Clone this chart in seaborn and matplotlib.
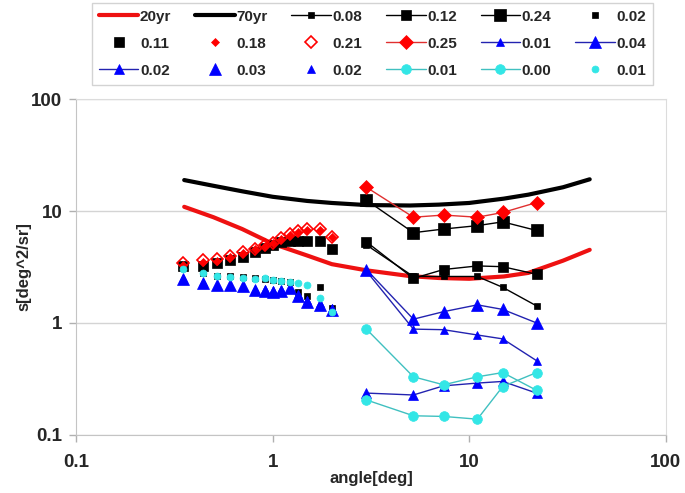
import numpy as np
import matplotlib
matplotlib.use('Agg')
import matplotlib.pyplot as plt
import seaborn as sns

sns.set_style('white')
plt.rcParams['font.family'] = ['Liberation Sans', 'DejaVu Sans']
plt.rcParams['font.weight'] = 'bold'

# model curves
x_curve = [0.355, 0.5, 0.7, 1.0, 1.5, 2.0, 3.0, 5.0, 7.0, 10, 15, 20, 30, 41]
yr20 = [10.9, 8.8, 6.9, 5.1, 4.0, 3.35, 2.95, 2.62, 2.52, 2.48, 2.6, 2.8, 3.6, 4.5]
yr70 = [18.9, 16.8, 15.0, 13.4, 12.3, 11.8, 11.3, 11.2, 11.4, 11.8, 12.9, 14.0, 16.3, 19.2]

# small-angle points (no lines)
x_left = [0.35, 0.44, 0.52, 0.61, 0.71, 0.81, 0.91, 1.0, 1.1, 1.22, 1.35, 1.5, 1.75, 2.0]
blk_002 = [3.1, 2.8, 2.65, 2.6, 2.55, 2.5, 2.45, 2.4, 2.35, 2.3, 1.9, 1.75, 2.1, 1.35]
blk_011 = [3.2, 3.2, 3.45, 3.65, 3.9, 4.3, 4.7, 5.0, 5.3, 5.4, 5.45, 5.45, 5.4, 4.55]
red_018 = [3.3, 3.5, 3.6, 3.9, 4.2, 4.55, 4.9, 5.15, 5.6, 6.1, 6.5, 6.8, 6.8, 5.9]
red_021 = [3.4, 3.65, 3.75, 4.0, 4.3, 4.6, 5.0, 5.2, 5.7, 6.2, 6.6, 6.9, 6.9, 5.8]
blu_003 = [2.46, 2.29, 2.18, 2.18, 2.14, 1.97, 1.94, 1.9, 1.94, 2.04, 1.74, 1.55, 1.45, 1.31]
blu_002b = [2.5, 2.3, 2.2, 2.2, 2.15, 2.0, 2.0, 1.95, 2.0, 2.05, 1.8, 1.6, 1.5, 1.35]
cya_001b = [3.05, 2.78, 2.6, 2.56, 2.5, 2.46, 2.5, 2.42, 2.39, 2.34, 2.29, 2.18, 1.66, 1.26]

# large-angle points (with lines)
x_right = [3.0, 5.2, 7.4, 11.0, 14.8, 22.0]
blk_008 = [4.97, 2.6, 2.6, 2.6, 2.08, 1.42]
blk_012 = [5.3, 2.5, 3.0, 3.23, 3.18, 2.72]
blk_024 = [12.5, 6.4, 6.9, 7.4, 8.0, 6.7]
red_025 = [16.3, 8.8, 9.2, 8.8, 9.7, 11.9]
blu_001 = [2.9, 0.88, 0.87, 0.78, 0.72, 0.46]
blu_004 = [3.0, 1.08, 1.26, 1.45, 1.32, 1.0]
blu_002 = [0.236, 0.227, 0.274, 0.29, 0.30, 0.236]
cya_001 = [0.88, 0.33, 0.28, 0.33, 0.36, 0.25]
cya_000 = [0.205, 0.148, 0.146, 0.138, 0.27, 0.36]

RED = '#ff0000'
BLUE = '#0000ff'
BLINE = '#2323b0'
CYAN = '#33e6e6'
CLINE = '#40c0c0'

fig = plt.figure(figsize=(6.85, 4.93), dpi=100)
ax = fig.add_axes([0.111, 0.118, 0.861, 0.681])
ax.set_xscale('log')
ax.set_yscale('log')


def draw(x, y, label, color, marker=None, ms=0, lw=0.0, lc=None, mfc=None, mew=0.5):
    sns.lineplot(x=x, y=y, ax=ax, label=label, color=lc or color,
                 linewidth=lw, linestyle='-' if lw > 0 else 'none',
                 marker=marker, markersize=ms,
                 markerfacecolor=mfc if mfc is not None else color,
                 markeredgecolor=color, markeredgewidth=mew)


draw(x_curve, yr20, '20yr', '#ee1111', lw=3.0)
draw(x_curve, yr70, '70yr', 'black', lw=3.0)
draw(x_right, blk_008, '0.08', 'black', 's', 4.5, 1.0)
draw(x_right, blk_012, '0.12', 'black', 's', 6.5, 1.0)
draw(x_right, blk_024, '0.24', 'black', 's', 8.5, 1.0)
draw(x_left, blk_002, '0.02', 'black', 's', 4.5)
draw(x_left, blk_011, '0.11', 'black', 's', 7.5)
draw(x_left, red_018, '0.18', RED, 'D', 4.5)
draw(x_left, red_021, '0.21', RED, 'D', 6.5, mfc='none', mew=1.2)
draw(x_right, red_025, '0.25', RED, 'D', 7.5, 1.0, lc='#e03030')
draw(x_right, blu_001, '0.01', BLUE, '^', 5.5, 1.0, lc=BLINE)
draw(x_right, blu_004, '0.04', BLUE, '^', 9, 1.0, lc=BLINE)
draw(x_right, blu_002, '0.02', BLUE, '^', 7, 1.0, lc=BLINE)
draw(x_left, blu_003, '0.03', BLUE, '^', 8)
draw(x_left, blu_002b, '0.02', BLUE, '^', 5.5)
draw(x_right, cya_001, '0.01', CYAN, 'o', 7, 1.0, lc=CLINE)
draw(x_right, cya_000, '0.00', CYAN, 'o', 7, 1.0, lc=CLINE)
draw(x_left, cya_001b, '0.01', CYAN, 'o', 5)

ax.set_xlim(0.1, 100)
ax.set_ylim(0.1, 100)
ticks = [0.1, 1, 10, 100]
ax.set_xticks(ticks)
ax.set_xticklabels(['0.1', '1', '10', '100'])
ax.set_yticks(ticks)
ax.set_yticklabels(['0.1', '1', '10', '100'])
ax.minorticks_off()
ax.tick_params(axis='both', which='major', length=5, width=1, color='#b0b0b0',
               labelsize=13.5, pad=5, direction='out', bottom=True, left=True)
for lab in ax.get_xticklabels() + ax.get_yticklabels():
    lab.set_fontweight('bold')
ax.xaxis.set_tick_params(pad=9)

ax.yaxis.grid(True, color='#d4d4d4', linewidth=1)
ax.xaxis.grid(False)
for side in ['top', 'right']:
    ax.spines[side].set_color('#dcdcdc')
for side in ['left', 'bottom']:
    ax.spines[side].set_color('#c4c4c4')

ax.set_xlabel('angle[deg]', fontsize=12, fontweight='bold', labelpad=0)
ax.set_ylabel('s[deg^2/sr]', fontsize=12, fontweight='bold', labelpad=0)

handles, labels = ax.get_legend_handles_labels()
ax.get_legend().remove()
ncol, nrow = 6, 3
order = [r * ncol + c for c in range(ncol) for r in range(nrow)]
leg = fig.legend([handles[i] for i in order], [labels[i] for i in order],
                 ncol=ncol, loc='upper left', bbox_to_anchor=(0.134, 0.994),
                 frameon=True, fancybox=False, edgecolor='#c8c8c8',
                 prop={'weight': 'bold', 'size': 11}, handlelength=2.6,
                 handletextpad=0.1, columnspacing=1.55, labelspacing=0.85,
                 borderpad=0.45, borderaxespad=0)
leg.get_frame().set_linewidth(1.0)

fig.savefig('out.png', dpi=100)
